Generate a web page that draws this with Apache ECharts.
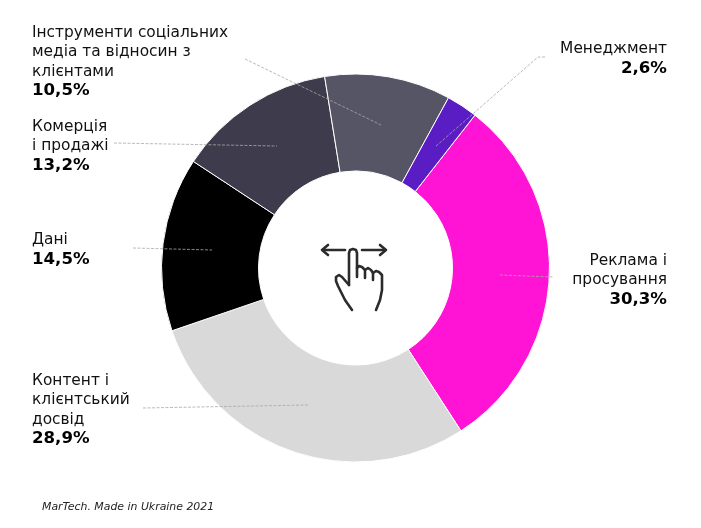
<!DOCTYPE html>
<html lang="uk">
<head>
    <meta charset="UTF-8">
    <title>MarTech. Made in Ukraine 2021</title>
    <script src="https://cdn.jsdelivr.net/npm/echarts@6/dist/echarts.min.js"></script>
    <style>
        html, body { margin: 0; padding: 0; background: #fff; }
    </style>
</head>
<body>
    <div id="main" style="width: 701px;height:528px;"></div>
    <script type="text/javascript">
        var categories = [
            ['Реклама і', 'просування'],
            ['Контент і', 'клієнтський', 'досвід'],
            ['Дані'],
            ['Комерція', 'і продажі'],
            ['Інструменти соціальних', 'медіа та відносин з', 'клієнтами'],
            ['Менеджмент']
        ];
        var values = [30.3, 28.9, 14.5, 13.2, 10.5, 2.6];
        var colors = ['#ff14d6', '#d9d9d9', '#000000', '#3e3c4c', '#555566', '#5a1dc4'];
        var footnote = 'MarTech. Made in Ukraine 2021';

        // label anchors, hand placed like in the original
        var labelPlaces = [
            { x: 667, y: 280, align: 'right' },
            { x: 32, y: 410, align: 'left' },
            { x: 32, y: 250, align: 'left' },
            { x: 32, y: 146, align: 'left' },
            { x: 32, y: 62, align: 'left' },
            { x: 667, y: 59, align: 'right' }
        ];

        // thin dashed leader lines
        var leaders = [
            [[500, 275], [553, 277]],
            [[143, 408], [309, 405]],
            [[133, 248], [212, 250]],
            [[114, 143], [277, 146]],
            [[245, 59], [381, 125]],
            [[545, 57], [538, 57], [435, 147]]
        ];

        // the swipe icon in the hole of the donut
        var handIcon = [
            [[345, 250], [323, 250]],
            [[328, 245], [322, 250], [328, 255]],
            [[362, 250], [385, 250]],
            [[380, 245], [386, 250], [380, 255]],
            [[349, 285], [349, 253], [350, 250], [353, 249], [356, 250], [357, 253], [357, 277]],
            [[357, 268], [359, 266], [362, 267], [365, 270], [365, 278]],
            [[365, 270], [368, 268], [371, 270], [373, 273], [373, 280]],
            [[373, 273], [376, 271], [379, 272], [382, 275], [382, 277], [382, 290], [380, 300], [376, 310]],
            [[349, 285], [342, 277], [339, 275], [336, 277], [336, 281], [338, 286], [345, 300], [352, 310]]
        ];

        var myChart = echarts.init(document.getElementById('main'));

        var graphics = leaders.map(function (pts) {
            return {
                type: 'polyline',
                z: 10,
                shape: { points: pts },
                style: { fill: null, stroke: '#a8a8a8', lineWidth: 0.8, lineDash: [3, 1.5] }
            };
        });
        handIcon.forEach(function (pts) {
            graphics.push({
                type: 'polyline',
                z: 10,
                shape: { points: pts },
                style: { fill: null, stroke: '#2b2b2b', lineWidth: 2.6, lineCap: 'round', lineJoin: 'round' }
            });
        });
        graphics.push({
            type: 'text',
            z: 10,
            x: 42,
            y: 502,
            style: {
                text: footnote,
                fill: '#222',
                font: 'italic 10.9px "DejaVu Sans"'
            }
        });

        var option = {
            backgroundColor: '#fff',
            animation: false,
            graphic: { elements: graphics },
            series: [
                {
                    type: 'pie',
                    center: [355.5, 268],
                    radius: [97, 194],
                    startAngle: 52,
                    clockwise: true,
                    avoidLabelOverlap: false,
                    itemStyle: { borderColor: '#fff', borderWidth: 1 },
                    labelLine: { show: false },
                    label: {
                        show: true,
                        position: 'outside',
                        formatter: function (p) {
                            var lines = categories[p.dataIndex].map(function (t) {
                                return '{n|' + t + '}';
                            });
                            lines.push('{b|' + values[p.dataIndex].toFixed(1).replace('.', ',') + '%}');
                            return lines.join('\n');
                        },
                        rich: {
                            n: {
                                fontFamily: 'DejaVu Sans',
                                fontSize: 15.4,
                                lineHeight: 19.4,
                                color: '#111'
                            },
                            b: {
                                fontFamily: 'DejaVu Sans',
                                fontWeight: 'bold',
                                fontSize: 16.6,
                                lineHeight: 19.4,
                                color: '#000'
                            }
                        }
                    },
                    labelLayout: function (p) {
                        var place = labelPlaces[p.dataIndex];
                        return { x: place.x, y: place.y, align: place.align, verticalAlign: 'middle' };
                    },
                    data: values.map(function (v, i) {
                        return {
                            value: v,
                            name: categories[i].join(' '),
                            itemStyle: { color: colors[i] },
                            label: { align: labelPlaces[i].align }
                        };
                    })
                }
            ]
        };
        myChart.setOption(option);
    </script>
</body>
</html>
